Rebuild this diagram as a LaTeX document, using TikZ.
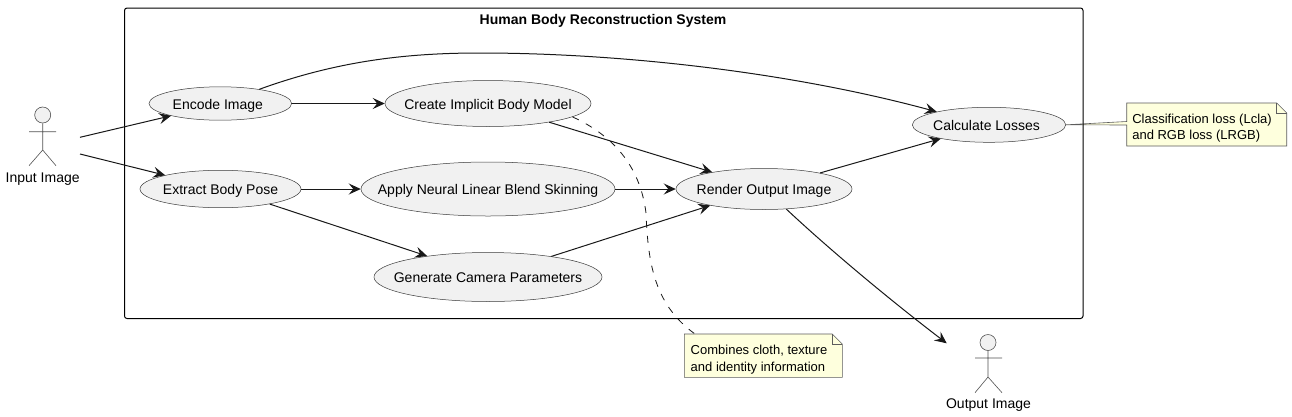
\documentclass[tikz,border=0pt]{standalone}
\usepackage{fontspec}
\setmainfont{Liberation Sans}
\usetikzlibrary{shapes.geometric,arrows.meta,backgrounds}
\definecolor{uline}{HTML}{181818}
\definecolor{ufill}{HTML}{F1F1F1}
\definecolor{unote}{HTML}{FEFFDD}
\newcommand{\uctext}[1]{\makebox[0pt]{\raisebox{-0.42em}[0pt][0pt]{#1}}}
\tikzset{
  uc/.style={ellipse,draw=uline!85!white,line width=.5pt,fill=ufill,inner sep=0pt,text=black,font=\fontsize{14}{16}\selectfont},
  conn/.style={draw=uline,line width=1pt,-{Stealth[length=12pt,width=11pt,inset=4.5pt]}},
  notelink/.style={draw=uline,line width=.8pt,dash pattern=on 7pt off 8pt},
  notetext/.style={inner sep=0pt,align=left,font=\fontsize{13}{16.5}\selectfont,anchor=center},
  noteshape/.style={draw=uline!70!white,line width=.6pt,fill=unote},
  foldline/.style={draw=uline!70!white,line width=.6pt},
  stick/.style={draw=uline!75!white,line width=.6pt},
  head/.style={circle,draw=uline!75!white,line width=.6pt,fill=ufill,minimum size=16pt,inner sep=0pt},
  actorlabel/.style={inner sep=0pt,font=\fontsize{14}{16}\selectfont},
  frame/.style={draw=black,line width=1pt,rounded corners=2.5pt},
  frametitle/.style={inner sep=0pt,font=\fontsize{14}{16}\selectfont\bfseries}
}
\begin{document}
\begin{tikzpicture}[x=1pt,y=-1pt]
\useasboundingbox (0,0) rectangle (1292,416);
\draw[frame] (124.5,8) rectangle (1083,318.5);
\node[frametitle] (title) at (603,20.5) {Human Body Reconstruction System};

\node[uc,minimum width=142.6pt,minimum height=33.4pt] (enc) at (220.3,103.5) {\uctext{Encode Image\hspace*{5pt}}};
\node[uc,minimum width=206pt,minimum height=46pt] (cre) at (488,103.5) {\uctext{Create Implicit Body Model}};
\node[uc,minimum width=161pt,minimum height=37.4pt] (ext) at (220.5,189) {\uctext{Extract Body Pose}};
\node[uc,minimum width=254pt,minimum height=54pt] (app) at (488,189) {\uctext{Apply Neural Linear Blend Skinning}};
\node[uc,minimum width=228pt,minimum height=49pt] (gen) at (488,277) {\uctext{Generate Camera Parameters}};
\node[uc,minimum width=176pt,minimum height=41pt] (ren) at (764,189) {\uctext{Render Output Image}};
\node[uc,minimum width=153.4pt,minimum height=35pt] (cal) at (989,124.8) {\uctext{Calculate Losses\hspace*{5pt}}};

% actors
\node[head] (inh) at (42.7,115) {};
\draw[stick] (inh.south) -- (42.7,150) (29,131.7) -- (56,131.7) (29,165.7) -- (42.7,150) -- (56,165.7);
\node[actorlabel] (inl) at (42.7,179) {Input Image};
\coordinate (ina) at (80,137.3);
\coordinate (inb) at (80,154);
\node[head] (outh) at (988,342.5) {};
\draw[stick] (outh.south) -- (988,377) (975,358) -- (1002,358) (975,392.7) -- (988,377) -- (1002,392.7);
\node[actorlabel] (outl) at (988.5,405.3) {Output Image};
\coordinate (outa) at (946.7,343.3);

% notes
\node[notetext] (n1) at (1202,128) {Classification loss (Lcla)\\and RGB loss (LRGB)};
\node[notetext] (n2) at (759,359.5) {Combines cloth, texture\\and identity information};
\coordinate (n1nw) at (1126.7,103);
\coordinate (n1ne) at (1286.7,103);
\coordinate (n1se) at (1286.7,146);
\coordinate (n1sw) at (1126.7,146);
\coordinate (n2nw) at (684.3,334);
\coordinate (n2ne) at (842.3,334);
\coordinate (n2se) at (842.3,377.3);
\coordinate (n2sw) at (684.3,377.3);
\begin{scope}[on background layer]
\fill[white] (0,0) rectangle (1292,416);
\path[noteshape] (n1nw) -- ([xshift=-10pt]n1ne) -- ([yshift=-10pt]n1ne) -- (n1se) -- (n1sw) -- (1126.7,125) -- (cal.0) -- (1126.7,121.5) -- cycle;
\draw[foldline] ([xshift=-10pt]n1ne) |- ([yshift=-10pt]n1ne);
\path[noteshape] (n2nw) -- ([xshift=-10pt]n2ne) -- ([yshift=-10pt]n2ne) -- (n2se) -- (n2sw) -- cycle;
\draw[foldline] ([xshift=-10pt]n2ne) |- ([yshift=-10pt]n2ne);
\end{scope}

% connectors
\draw[conn] (ina) -- (enc.194);
\draw[conn] (inb) -- (ext.166.3);
\draw[conn] (enc.0) -- (cre.180);
\draw[conn] (ext.0) -- (app.180);
\draw[conn] (ext.-17.6) -- (gen.161.3);
\draw[conn] (cre.-17.6) -- (ren.162);
\draw[conn] (app.0) -- (ren.180);
\draw[conn] (gen.18) -- (ren.197);
\draw[conn] (ren.16.7) -- (cal.196);
\draw[conn] (ren.-42) .. controls (830,250) and (890,300) .. (outa);
\draw[conn] (enc.20.4) .. controls (340,60) and (410,53) .. (480,53) .. controls (620,53) and (790,72) .. (cal.166);
\draw[notelink] (cre.-9) .. controls (612,135) and (640,165) .. (646,213) .. controls (648,265) and (655,305) .. (695,334);
\end{tikzpicture}
\end{document}
